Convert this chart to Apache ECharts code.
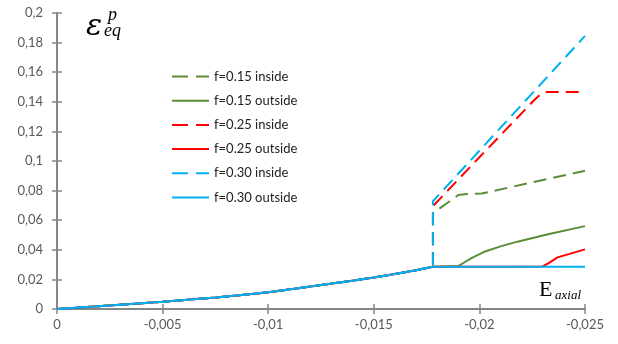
<!DOCTYPE html>
<html><head><meta charset="utf-8">
<script src="https://cdn.jsdelivr.net/npm/echarts@6/dist/echarts.min.js"></script>
<style>html,body{margin:0;padding:0;background:#fff}#c{width:618px;height:344px}</style>
</head><body><div id="c"></div>
<script>
// common loading curve (all six cases coincide here)
const baseX = [0, -0.0025, -0.005, -0.0075, -0.0091, -0.0100, -0.0115, -0.0125, -0.0139, -0.0150, -0.0162, -0.0170, -0.0178];
const baseY = [0, 0.0024, 0.0049, 0.0077, 0.0099, 0.0113, 0.0142, 0.0162, 0.0189, 0.0213, 0.0241, 0.0262, 0.0286];
// f=0.15
const in15X = [-0.0178, -0.0178, -0.0190, -0.0194, -0.0201, -0.0250];
const in15Y = [0.0286, 0.0647, 0.0770, 0.0777, 0.0780, 0.0934];
const out15X = [-0.0190, -0.0193, -0.0196, -0.0202, -0.0210, -0.0218, -0.0233, -0.0250];
const out15Y = [0.0290, 0.0316, 0.0342, 0.0385, 0.0423, 0.0455, 0.0507, 0.0560];
// f=0.25
const in25X = [-0.0178, -0.0178, -0.0200, -0.0226, -0.0229, -0.0232, -0.0250];
const in25Y = [0.0286, 0.0695, 0.1025, 0.1412, 0.1452, 0.1466, 0.1466];
const out25X = [-0.0230, -0.0233, -0.0237, -0.0250];
const out25Y = [0.0288, 0.0312, 0.0349, 0.0403];
// f=0.30
const in30X = [-0.0178, -0.0178, -0.0250];
const in30Y = [0.0286, 0.0728, 0.1845];
const out30X = [-0.0250];
const out30Y = [0.0286];

const names = ['f=0.15 inside','f=0.15 outside','f=0.25 inside','f=0.25 outside','f=0.30 inside','f=0.30 outside'];
const colors = ['#5b8c38','#5b8c38','#ff0000','#ff0000','#00b0f0','#00b0f0'];

function pts(xs, ys, withBase){
  const out = [];
  if (withBase) baseX.forEach((x,i)=>out.push([x, baseY[i]]));
  xs.forEach((x,i)=>out.push([x, ys[i]]));
  return out;
}
const seriesData = [
  pts(in15X,in15Y,true), pts(out15X,out15Y,true),
  pts(in25X,in25Y,true), pts(out25X,out25Y,true),
  pts(in30X,in30Y,true), pts(out30X,out30Y,true)
];

const fmtX = v => v === 0 ? '0' : String(Number(v.toFixed(4))).replace('.', ',');
const fmtY = v => v === 0 ? '0' : String(Number(v.toFixed(3))).replace('.', ',');
const axisCol = '#868686';
const labelStyle = {color:'#595959', fontFamily:'Lato', fontSize:13};
const isDash = n => n.indexOf('inside') >= 0;

const chart = echarts.init(document.getElementById('c'), null, {renderer:'canvas'});
chart.setOption({
  animation:false,
  backgroundColor:'#fff',
  grid:{left:57, right:33, top:13, bottom:35, containLabel:false, outerBoundsMode:'none'},
  legend:{
    orient:'vertical', left:166, top:65, itemWidth:37, itemHeight:12, itemGap:11.2,
    textStyle:{color:'#222', fontFamily:'Lato', fontSize:13},
    itemStyle:{opacity:0},
    data:names.map((n,i)=>({name:n, itemStyle:{opacity:0},
      lineStyle:{color:colors[i], width:2, type: isDash(n) ? [16,8] : 'solid'}})),
    selectedMode:false
  },
  xAxis:[{
    type:'value', inverse:true, min:-0.025, max:0, interval:0.005,
    axisLine:{onZero:false, lineStyle:{color:axisCol, width:2}},
    axisTick:{show:true, length:5, lineStyle:{color:axisCol, width:1.5}},
    axisLabel:Object.assign({margin:9, formatter:fmtX}, labelStyle),
    splitLine:{show:false}
  },{
    type:'value', inverse:true, min:-0.025, max:0, interval:0.005, position:'bottom',
    axisLine:{show:false}, axisTick:{show:true, inside:true, length:5, lineStyle:{color:axisCol, width:1.5}},
    axisLabel:{show:false}, splitLine:{show:false}
  }],
  yAxis:[{
    type:'value', min:0, max:0.2, interval:0.02,
    axisLine:{show:true, onZero:false, lineStyle:{color:axisCol, width:2}},
    axisTick:{show:true, length:5, lineStyle:{color:axisCol, width:1.5}},
    axisLabel:Object.assign({margin:14, formatter:fmtY}, labelStyle),
    splitLine:{show:false}
  },{
    type:'value', min:0, max:0.2, interval:0.02, position:'left',
    axisLine:{show:false}, axisTick:{show:true, inside:true, length:5, lineStyle:{color:axisCol, width:1.5}},
    axisLabel:{show:false}, splitLine:{show:false}
  }],
  series: names.map((n,i)=>({
    name:n, type:'line', data:seriesData[i], symbol:'none', showSymbol:false, smooth:false,
    lineStyle:{color:colors[i], width:2, type: isDash(n) ? [13,7] : 'solid'},
    itemStyle:{color:colors[i]}
  })),
  graphic:[
    {type:'text', left:86, top:12, style:{text:'ε', font:'italic 30px "DejaVu Serif"', fill:'#000'}},
    {type:'text', left:108, top:6, style:{text:'p', font:'italic 18px "Liberation Serif"', fill:'#000'}},
    {type:'text', left:104, top:22, style:{text:'eq', font:'italic 18px "Liberation Serif"', fill:'#000'}},
    {type:'text', left:539, top:279, style:{text:'E', font:'22px "Liberation Serif"', fill:'#000'}},
    {type:'text', left:555, top:289, style:{text:'axial', font:'italic 13px "Liberation Serif"', fill:'#000'}}
  ]
});
</script></body></html>
